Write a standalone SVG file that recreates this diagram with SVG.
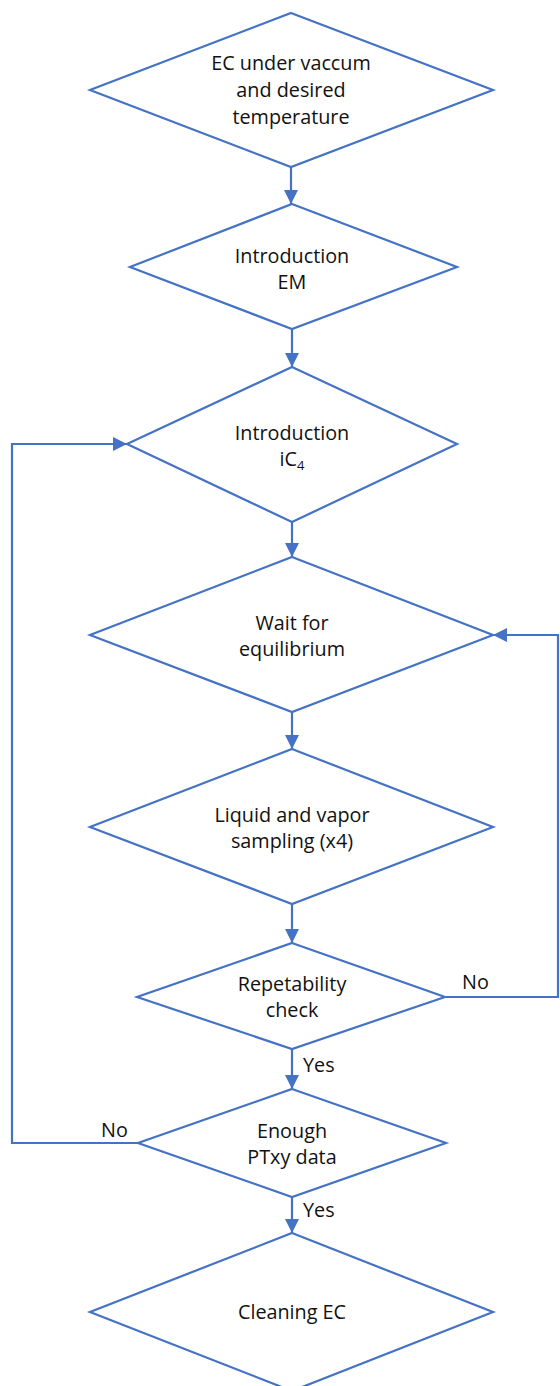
<svg xmlns="http://www.w3.org/2000/svg" width="560" height="1386" viewBox="0 0 560 1386">
<style>
.n{fill:#fff;stroke:#4472C4;stroke-width:2.2;stroke-linejoin:miter}
.c{fill:none;stroke:#4472C4;stroke-width:2.2}
.t{font-family:"Open Sans","Noto Sans",sans-serif;font-size:19.8px;fill:#111;text-anchor:middle}
.l{font-family:"Open Sans","Noto Sans",sans-serif;font-size:19.8px;fill:#111}
</style>
<defs>
<marker id="ah" markerUnits="userSpaceOnUse" markerWidth="14" markerHeight="14" viewBox="0 0 14 14" refX="14" refY="7" orient="auto">
<path d="M0,0 L14,7 L0,14 Z" fill="#4472C4"/>
</marker>
</defs>
<rect width="560" height="1386" fill="#fff"/>
<g id="connectors">
<path class="c" d="M291,167 V204" marker-end="url(#ah)"/>
<path class="c" d="M292,329 V367" marker-end="url(#ah)"/>
<path class="c" d="M292,522 V557" marker-end="url(#ah)"/>
<path class="c" d="M292,712 V749" marker-end="url(#ah)"/>
<path class="c" d="M292,904 V943" marker-end="url(#ah)"/>
<path class="c" d="M292,1049 V1089" marker-end="url(#ah)"/>
<path class="c" d="M292,1197 V1233" marker-end="url(#ah)"/>
<path class="c" d="M445,997 H558 V635 H493" marker-end="url(#ah)"/>
<path class="c" d="M138,1143 H12 V444 H127" marker-end="url(#ah)"/>
<text class="l" x="462" y="989">No</text>
<text class="l" x="101" y="1137">No</text>
<text class="l" x="303" y="1072">Yes</text>
<text class="l" x="303" y="1217">Yes</text>
</g>
<g id="n1">
<polygon class="n" points="291,13 493,90 291,167 90,90"/>
<text class="t" x="291" y="70">EC under vaccum</text>
<text class="t" x="291" y="97">and desired</text>
<text class="t" x="291" y="124">temperature</text>
</g>
<g id="n2">
<polygon class="n" points="292,204 457,267 292,329 130,267"/>
<text class="t" x="292" y="263">Introduction</text>
<text class="t" x="292" y="289">EM</text>
</g>
<g id="n3">
<polygon class="n" points="292,367 457,444 292,522 127,444"/>
<text class="t" x="292" y="440">Introduction</text>
<text class="t" x="292" y="466">iC<tspan font-size="13" dy="4">4</tspan></text>
</g>
<g id="n4">
<polygon class="n" points="292,557 493,635 292,712 90,635"/>
<text class="t" x="292" y="630">Wait for</text>
<text class="t" x="292" y="656">equilibrium</text>
</g>
<g id="n5">
<polygon class="n" points="292,749 493,827 292,904 90,827"/>
<text class="t" x="292" y="822">Liquid and vapor</text>
<text class="t" x="292" y="848">sampling (x4)</text>
</g>
<g id="n6">
<polygon class="n" points="292,943 445,997 292,1049 137,997"/>
<text class="t" x="292" y="991">Repetability</text>
<text class="t" x="292" y="1017">check</text>
</g>
<g id="n7">
<polygon class="n" points="292,1089 446,1143 292,1197 138,1143"/>
<text class="t" x="292" y="1138">Enough</text>
<text class="t" x="292" y="1164">PTxy data</text>
</g>
<g id="n8">
<polygon class="n" points="292,1233 493,1312 292,1391 90,1312"/>
<text class="t" x="292" y="1319">Cleaning EC</text>
</g>
</svg>
